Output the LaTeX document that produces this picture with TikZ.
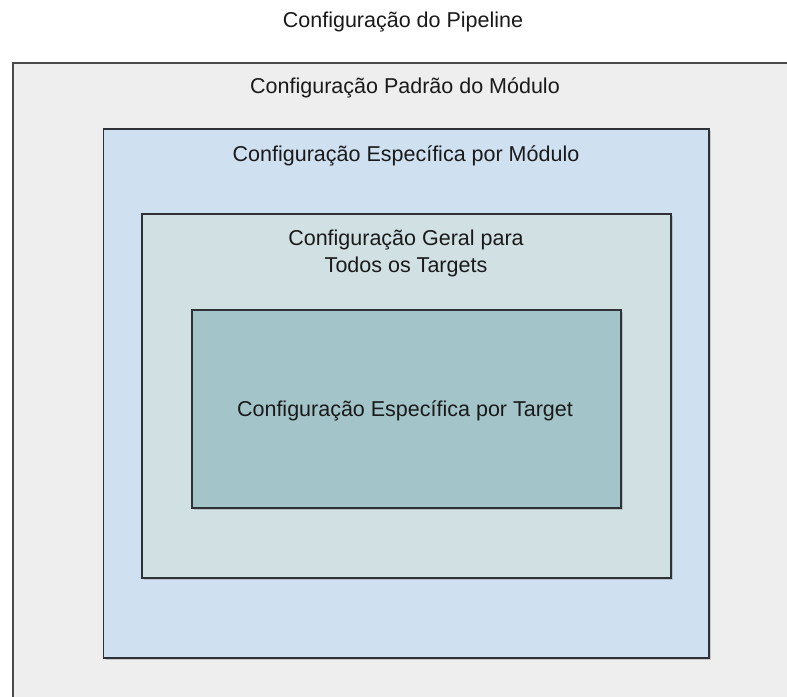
\documentclass[tikz,border=0pt]{standalone}
\usepackage{fontspec}
\setmainfont{Liberation Sans}
\usetikzlibrary{shadows}
\definecolor{outerfill}{HTML}{EEEEEE}
\definecolor{modfill}{HTML}{CFE0F1}
\definecolor{geralfill}{HTML}{D1E0E3}
\definecolor{targetfill}{HTML}{A3C4C9}
\definecolor{edgegray}{HTML}{4A4A4A}
\definecolor{edgedark}{HTML}{2E3236}
\definecolor{txt}{HTML}{1A1A1A}
\begin{document}
\begin{tikzpicture}[x=1pt,y=1pt,
  box/.style={draw=edgedark, line width=1.4pt, rectangle, inner sep=0pt,
    drop shadow={shadow xshift=2pt, shadow yshift=-2.5pt, opacity=0.35}},
  lbl/.style={text=txt, font=\fontsize{21.5}{27}\selectfont, align=center, inner sep=0pt}]
\useasboundingbox (0,0) rectangle (787,696);
\fill[white] (0,0) rectangle (787,696);
\clip (0,0) rectangle (787,696);
\node[box, draw=edgegray, fill=outerfill, minimum width=800pt, minimum height=660pt] (outer) at (413,303) {};
\node[box, fill=modfill, minimum width=605.5pt, minimum height=529pt] (modulo) at (406.25,302.5) {};
\node[box, fill=geralfill, minimum width=529pt, minimum height=364pt] (geral) at (406.5,300) {};
\node[box, fill=targetfill, minimum width=429pt, minimum height=198pt] (target) at (406.5,287) {};
\node[lbl] (title) at (403,674) {Configuração do Pipeline};
\node[lbl] (outerlbl) at (405,608) {Configuração Padrão do Módulo};
\node[lbl] (modlbl) at (406,540) {Configuração Específica por Módulo};
\node[lbl] (gerallbl) at (406,443) {Configuração Geral para\\Todos os Targets};
\node[lbl] (targetlbl) at (405,285) {Configuração Específica por Target};
\end{tikzpicture}
\end{document}
